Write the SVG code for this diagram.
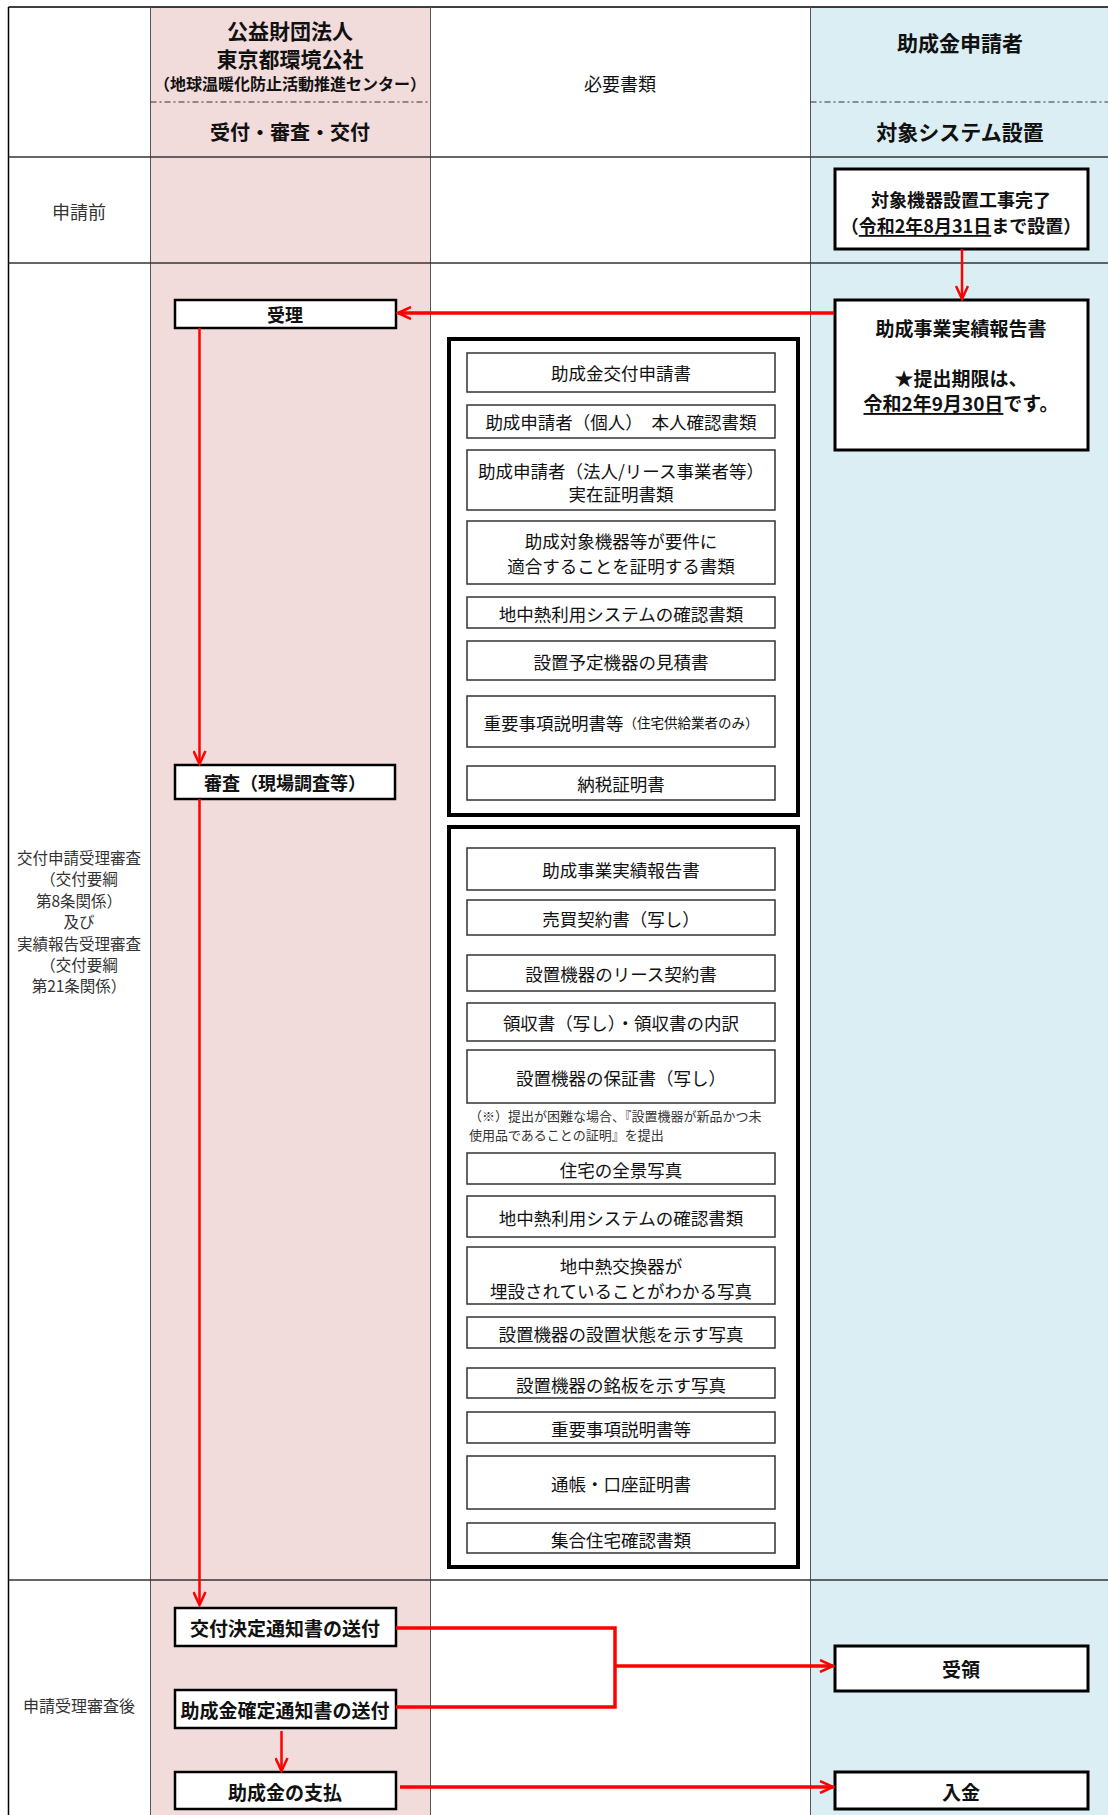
<svg xmlns="http://www.w3.org/2000/svg" width="1108" height="1815" viewBox="0 0 1108 1815">
<defs>
<style>
text{font-family:"Noto Sans CJK JP","Noto Sans",sans-serif;fill:#111;text-anchor:middle;dominant-baseline:central}
.hd{font-size:21px;font-weight:bold}
.lbl{font-size:16px;fill:#333}
.doc{font-size:17.5px}
.node{fill:#fff;stroke:#000;stroke-width:2.5}
.big{fill:#fff;stroke:#000;stroke-width:3}
.box{fill:#fff;stroke:#333;stroke-width:1.5}
.grp{fill:#fff;stroke:#000;stroke-width:4}
.nb{font-size:19px;font-weight:bold}
.red{fill:none;stroke:#f00;stroke-width:2.5}
.redt{fill:none;stroke:#f00;stroke-width:3.5}
.ul{text-decoration:underline}
</style>
<marker id="ah" markerUnits="userSpaceOnUse" viewBox="0 0 16 14" markerWidth="16" markerHeight="14" refX="14" refY="7" orient="auto">
<path d="M1,1 L14,7 L1,13" fill="none" stroke="#f00" stroke-width="2.5"/>
</marker>
</defs>

<g id="lanes">
<rect x="8.5" y="7" width="1100" height="1808" fill="#fff"/>
<rect x="150.5" y="7" width="280" height="1808" fill="#f2dcdb"/>
<rect x="810.5" y="7" width="298" height="1808" fill="#daeef3"/>
<line x1="8.5" y1="7" x2="1108" y2="7" stroke="#000" stroke-width="1.5"/>
<line x1="8.5" y1="7" x2="8.5" y2="1815" stroke="#000" stroke-width="1.5"/>
<line x1="150.5" y1="7" x2="150.5" y2="1815" stroke="#555" stroke-width="1"/>
<line x1="430.5" y1="7" x2="430.5" y2="1815" stroke="#555" stroke-width="1"/>
<line x1="810.5" y1="7" x2="810.5" y2="1815" stroke="#555" stroke-width="1"/>
<line x1="8.5" y1="157" x2="1108" y2="157" stroke="#333" stroke-width="1.5"/>
<line x1="8.5" y1="263" x2="1108" y2="263" stroke="#333" stroke-width="1.5"/>
<line x1="8.5" y1="1580" x2="1108" y2="1580" stroke="#333" stroke-width="1.5"/>
<line x1="150.5" y1="102" x2="430.5" y2="102" stroke="#333" stroke-width="1" stroke-dasharray="6 3 2 3"/>
<line x1="810.5" y1="102" x2="1108" y2="102" stroke="#333" stroke-width="1" stroke-dasharray="6 3 2 3"/>
</g>

<g id="header">
<text class="hd" x="290" y="30">公益財団法人</text>
<text class="hd" x="290" y="58">東京都環境公社</text>
<text x="290" y="83" style="font-size:16px;font-weight:bold">（地球温暖化防止活動推進センター）</text>
<text class="hd" x="290" y="131" style="font-size:20px">受付・審査・交付</text>
<text x="620" y="83" style="font-size:18px">必要書類</text>
<text class="hd" x="960" y="42">助成金申請者</text>
<text class="hd" x="960" y="131">対象システム設置</text>
</g>

<g id="rowlabels">
<text class="lbl" x="79" y="211" style="font-size:18px">申請前</text>
<text class="lbl" x="79" y="857" style="font-size:15.5px">交付申請受理審査</text>
<text class="lbl" x="79" y="878.4" style="font-size:15.5px">（交付要綱</text>
<text class="lbl" x="79" y="899.8" style="font-size:15.5px">第8条関係）</text>
<text class="lbl" x="79" y="921.2" style="font-size:15.5px">及び</text>
<text class="lbl" x="79" y="942.6" style="font-size:15.5px">実績報告受理審査</text>
<text class="lbl" x="79" y="964" style="font-size:15.5px">（交付要綱</text>
<text class="lbl" x="79" y="985.4" style="font-size:15.5px">第21条関係）</text>
<text class="lbl" x="79" y="1705">申請受理審査後</text>
</g>

<g id="n-setsuchi">
<rect class="big" x="835" y="169" width="253" height="80"/>
<text x="961" y="199" style="font-size:18px;font-weight:bold">対象機器設置工事完了</text>
<text x="961" y="225" style="font-size:18px;font-weight:bold">（<tspan class="ul">令和2年8月31日</tspan>まで設置）</text>
</g>

<g id="n-jisseki">
<rect class="big" x="835" y="300" width="253" height="150"/>
<text x="961" y="327" style="font-size:19px;font-weight:bold">助成事業実績報告書</text>
<text x="961" y="377" style="font-size:19px;font-weight:bold">★提出期限は、</text>
<text x="961" y="402" style="font-size:19px;font-weight:bold"><tspan class="ul">令和2年9月30日</tspan>です。</text>
</g>

<g id="n-juri">
<rect class="node" x="175" y="300" width="221" height="28"/>
<text class="nb" x="285" y="314" style="font-size:18px">受理</text>
</g>

<g id="n-shinsa">
<rect class="node" x="175" y="765" width="220" height="34"/>
<text class="nb" x="285" y="782" style="font-size:18px">審査（現場調査等）</text>
</g>

<g id="docs-application">
<rect class="grp" x="449" y="339" width="349" height="476"/>
<rect class="box" x="467" y="353" width="308" height="39"/>
<text class="doc" x="621" y="372">助成金交付申請書</text>
<rect class="box" x="467" y="405" width="308" height="33"/>
<text class="doc" x="621" y="421">助成申請者（個人）　本人確認書類</text>
<rect class="box" x="467" y="450" width="308" height="60"/>
<text class="doc" x="621" y="470">助成申請者（法人/リース事業者等）</text>
<text class="doc" x="621" y="493">実在証明書類</text>
<rect class="box" x="467" y="521" width="308" height="63"/>
<text class="doc" x="621" y="540">助成対象機器等が要件に</text>
<text class="doc" x="621" y="565">適合することを証明する書類</text>
<rect class="box" x="467" y="597" width="308" height="31"/>
<text class="doc" x="621" y="613">地中熱利用システムの確認書類</text>
<rect class="box" x="467" y="641" width="308" height="39"/>
<text class="doc" x="621" y="661">設置予定機器の見積書</text>
<rect class="box" x="467" y="696" width="308" height="51"/>
<text class="doc" x="621" y="722">重要事項説明書等<tspan style="font-size:13.5px">（住宅供給業者のみ）</tspan></text>
<rect class="box" x="467" y="766" width="308" height="34"/>
<text class="doc" x="621" y="783">納税証明書</text>
</g>

<g id="docs-report">
<rect class="grp" x="449" y="827" width="349" height="740"/>
<rect class="box" x="467" y="848" width="308" height="42"/>
<text class="doc" x="621" y="869">助成事業実績報告書</text>
<rect class="box" x="467" y="900" width="308" height="35"/>
<text class="doc" x="621" y="918">売買契約書（写し）</text>
<rect class="box" x="467" y="955" width="308" height="36"/>
<text class="doc" x="621" y="973">設置機器のリース契約書</text>
<rect class="box" x="467" y="1003" width="308" height="38"/>
<text class="doc" x="621" y="1022">領収書（写し）・領収書の内訳</text>
<rect class="box" x="467" y="1050" width="308" height="53"/>
<text class="doc" x="621" y="1077">設置機器の保証書（写し）</text>
<text x="469" y="1115" style="font-size:13px;fill:#333;text-anchor:start">（※）提出が困難な場合、『設置機器が新品かつ未</text>
<text x="469" y="1134" style="font-size:13px;fill:#333;text-anchor:start">使用品であることの証明』を提出</text>
<rect class="box" x="467" y="1153" width="308" height="31"/>
<text class="doc" x="621" y="1169">住宅の全景写真</text>
<rect class="box" x="467" y="1196" width="308" height="41"/>
<text class="doc" x="621" y="1217">地中熱利用システムの確認書類</text>
<rect class="box" x="467" y="1247" width="308" height="57"/>
<text class="doc" x="621" y="1265">地中熱交換器が</text>
<text class="doc" x="621" y="1290">埋設されていることがわかる写真</text>
<rect class="box" x="467" y="1317" width="308" height="31"/>
<text class="doc" x="621" y="1333">設置機器の設置状態を示す写真</text>
<rect class="box" x="467" y="1368" width="308" height="30"/>
<text class="doc" x="621" y="1384">設置機器の銘板を示す写真</text>
<rect class="box" x="467" y="1412" width="308" height="31"/>
<text class="doc" x="621" y="1428">重要事項説明書等</text>
<rect class="box" x="467" y="1456" width="308" height="53"/>
<text class="doc" x="621" y="1483">通帳・口座証明書</text>
<rect class="box" x="467" y="1523" width="308" height="30"/>
<text class="doc" x="621" y="1539">集合住宅確認書類</text>
</g>

<g id="n-kofu-kettei">
<rect class="node" x="175" y="1608" width="221" height="38"/>
<text class="nb" x="285" y="1627">交付決定通知書の送付</text>
</g>
<g id="n-kakutei">
<rect class="node" x="175" y="1690" width="221" height="38"/>
<text class="nb" x="285" y="1709">助成金確定通知書の送付</text>
</g>
<g id="n-shiharai">
<rect class="node" x="175" y="1772" width="221" height="37"/>
<text class="nb" x="285" y="1791">助成金の支払</text>
</g>
<g id="n-juryo">
<rect class="big" x="835" y="1646" width="253" height="45"/>
<text class="nb" x="961" y="1668">受領</text>
</g>
<g id="n-nyukin">
<rect class="big" x="835" y="1772" width="253" height="37"/>
<text class="nb" x="961" y="1791">入金</text>
</g>

<g id="connectors">
<line class="red" x1="962" y1="249" x2="962" y2="299" marker-end="url(#ah)"/>
<line class="redt" x1="834" y1="313" x2="398" y2="313" marker-end="url(#ah)"/>
<line class="red" x1="199.5" y1="328" x2="199.5" y2="764" marker-end="url(#ah)"/>
<line class="red" x1="199.5" y1="799" x2="199.5" y2="1605" marker-end="url(#ah)"/>
<polyline class="redt" points="396,1628 615,1628 615,1707 396,1707"/>
<line class="redt" x1="615" y1="1666" x2="833" y2="1666" marker-end="url(#ah)"/>
<line class="red" x1="281.5" y1="1731" x2="281.5" y2="1771" marker-end="url(#ah)"/>
<line class="redt" x1="400" y1="1787" x2="833" y2="1787" marker-end="url(#ah)"/>
</g>
</svg>
